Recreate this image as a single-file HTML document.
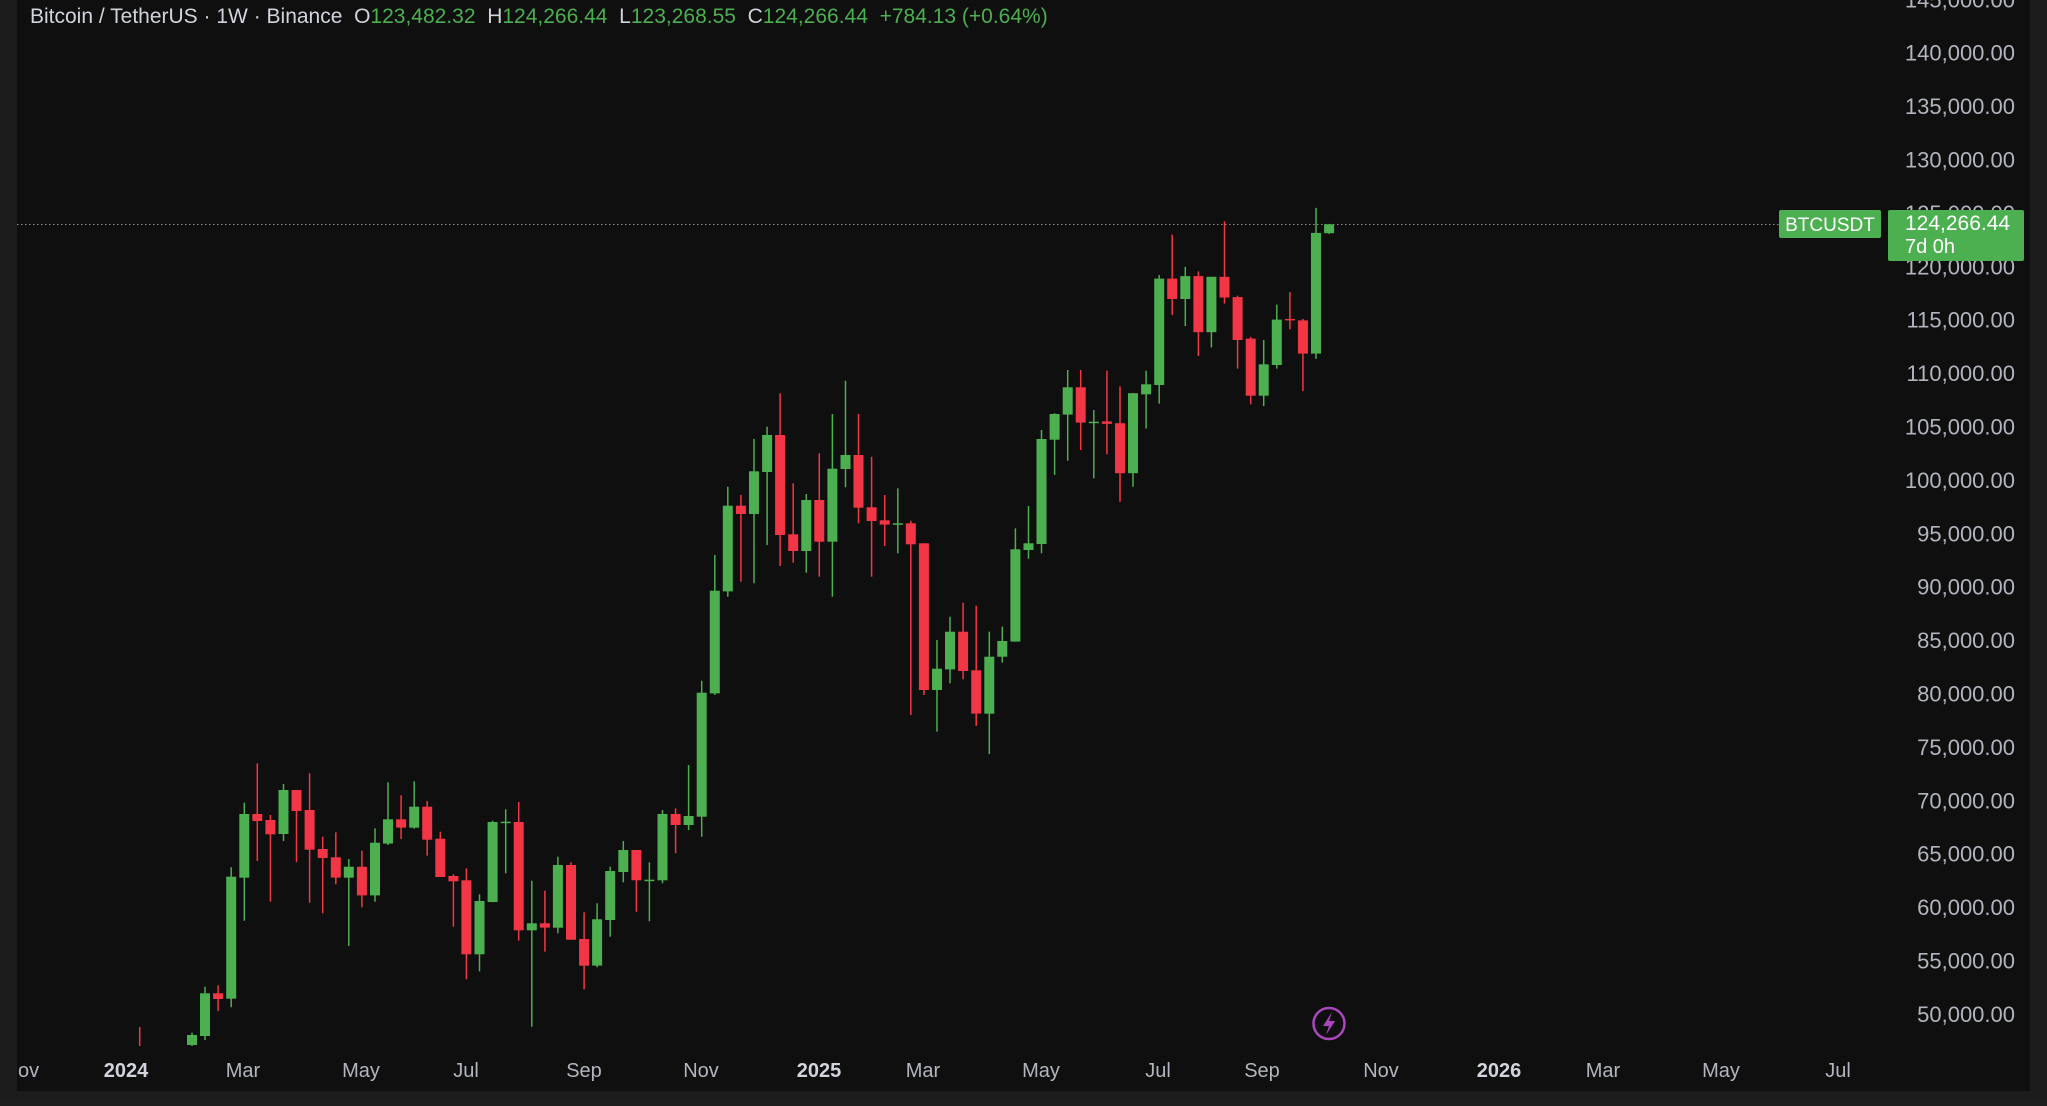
<!DOCTYPE html>
<html><head><meta charset="utf-8"><style>
html,body{margin:0;padding:0;background:#1e1e1e;width:2047px;height:1101px;overflow:hidden;font-family:"Liberation Sans",sans-serif;}
#wrap{position:absolute;left:0;top:0;width:2047px;height:1101px;}
</style></head><body><div id="wrap"><svg id="s" width="2047" height="1101" xmlns="http://www.w3.org/2000/svg"></svg></div>
<script>
var S=document.getElementById('s');var h='';
h+='<rect x="0" y="0" width="2047" height="1101" fill="#1c1c1c"/>';
h+='<rect x="17" y="0" width="2013" height="1091" fill="#0f0f0f"/>';
h+='<defs><clipPath id="c"><rect x="17" y="0" width="1850" height="1046"/></clipPath></defs>';
var z1=[[4,'G',848,855,885,890],[5,'G',710,730,858,870],[6,'R',706,730,747,783],[7,'G',352,380,746,772],[8,'G',158,192,383,512],[9,'R',40,192,213,333],[10,'R',195,210,253,455],[11,'G',102,120,252,273],[12,'R',120,120,183,337],[13,'R',70,180,299,458],[14,'R',260,297,324,490],[15,'R',247,322,383,403],[16,'G',327,350,383,588],[17,'R',302,350,436,472],[18,'G',235,278,436,455],[19,'G',97,208,281,285],[20,'R',136,208,233,267],[21,'G',94,170,233,236],[22,'R',153,170,269,317],[23,'R',245,266,381,380],[24,'R',373,378,394,530],[25,'R',355,391,613,688],[26,'G',433,453,613,664],[27,'G',212,216,456,457],[28,'G',178,215,218,370],[29,'R',156,216,541,572],[30,'G',392,520,541,830],[31,'R',422,520,533,605],[32,'G',320,345,533,550],[33,'R',337,345,569,569],[34,'R',487,567,647,718],[35,'G',460,508,647,652],[36,'G',350,363,510,560],[37,'G',273,300,366,397],[38,'R',300,300,391,485],[39,'G',337,389,392,514],[40,'G',180,192,391,400],[41,'R',175,192,225,310]];
var z2=[[42,'G',1185,1338,1365,1380],[43,'G',932,968,1340,1400],[44,'G',555,662,970,975],[45,'G',350,407,664,680],[46,'R',375,407,432,635],[47,'G',207,304,432,640],[48,'G',170,195,306,525],[49,'R',70,195,495,588],[50,'R',340,493,543,578],[51,'G',372,390,543,608],[52,'R',250,390,515,620],[53,'G',132,296,515,680],[54,'G',32,255,297,352],[55,'R',132,255,413,460],[56,'R',260,412,453,620],[57,'R',375,451,464,528],[58,'G',355,460,464,550],[59,'R',452,460,523,1035],[60,'R',520,520,960,975],[61,'G',810,896,960,1085],[62,'G',740,785,898,940],[63,'R',698,785,903,928],[64,'R',707,901,1031,1068],[65,'G',785,860,1031,1152],[66,'G',770,813,860,878],[67,'G',475,538,815,815],[68,'G',408,520,540,566],[69,'G',180,207,522,550],[70,'G',130,132,209,315],[71,'G',0,52,134,272],[72,'R',0,52,158,240],[73,'G',120,155,158,325]];
var z3=[[74,'R',478,620,627,712],[75,'R',522,625,765,845],[76,'G',540,541,765,803],[77,'G',478,516,544,640],[78,'G',210,220,518,570],[79,'R',97,220,277,322],[80,'G',187,213,277,353],[81,'R',200,213,370,437],[82,'G',215,215,370,413],[83,'R',60,215,273,290],[84,'R',268,272,392,472],[85,'R',383,388,548,572],[86,'G',392,460,548,577],[87,'G',293,335,462,472],[88,'R',258,333,337,362],[89,'R',333,337,430,535],[90,'G',22,92,430,445],[91,'G',67,68,93,95]];
var G='#4caf50',R='#f23645';
function X(i){return 139.7+i*13.07;}
var c='<g clip-path="url(#c)">';
c+='<line x1="139.7" y1="1027" x2="139.7" y2="1046" stroke="'+R+'" stroke-width="1.5"/>';
function draw(arr,off,sc){arr.forEach(function(d){var x=X(d[0]);var col=d[1]=='G'?G:R;
var wt=off+d[2]/sc,bt=off+d[3]/sc,bb=off+d[4]/sc,wb=off+d[5]/sc;if(bb-bt<1.5){bb=bt+1.5;}
c+='<line x1="'+x.toFixed(1)+'" y1="'+wt.toFixed(1)+'" x2="'+x.toFixed(1)+'" y2="'+wb.toFixed(1)+'" stroke="'+col+'" stroke-width="1.5"/>';
c+='<rect x="'+(x-5).toFixed(1)+'" y="'+bt.toFixed(1)+'" width="10" height="'+(bb-bt).toFixed(1)+'" fill="'+col+'"/>';});}
draw(z1,750,3);draw(z2,370,3);draw(z3,200,2.8);
c+='</g>';
h+='<line x1="17" y1="224.5" x2="1779" y2="224.5" stroke="#8a8a8a" stroke-width="1" stroke-dasharray="1.5,2.5"/>';
h+=c;
for(var p=50000;p<=145000;p+=5000){var y=1014.4-(p-50000)/5000*53.4;
h+='<text x="2015" y="'+(y+7.5).toFixed(1)+'" text-anchor="end" font-size="22" fill="#b2b5be">'+p.toLocaleString('en-US')+'.00</text>';}
var ml=[['ov',18,0,'start'],['2024',126,1],['Mar',243],['May',361],['Jul',466],['Sep',584],['Nov',701],['2025',819,1],['Mar',923],['May',1041],['Jul',1158],['Sep',1262],['Nov',1381],['2026',1499,1],['Mar',1603],['May',1721],['Jul',1838]];
ml.forEach(function(m){h+='<text x="'+m[1]+'" y="1077" text-anchor="'+(m[3]||'middle')+'" font-size="20" fill="'+(m[2]?'#d1d4dc':'#b2b5be')+'"'+(m[2]?' font-weight="bold"':'')+'>'+m[0]+'</text>';});
h+='<rect x="1779" y="210" width="102" height="28" rx="2" fill="'+G+'"/><text x="1830" y="231" text-anchor="middle" font-size="19" fill="#fff">BTCUSDT</text>';
h+='<rect x="1888" y="210" width="136" height="51" rx="2" fill="'+G+'"/><text x="1905" y="230" font-size="21" fill="#fff">124,266.44</text><text x="1905" y="253" font-size="20" fill="#fff">7d 0h</text>';
h+='<circle cx="1329" cy="1023.5" r="15.5" fill="none" stroke="#ab47bc" stroke-width="2.5"/><path d="M1332 1012 L1323 1026 L1329 1026 L1326 1035 L1335 1021 L1329 1021 Z" fill="#ab47bc"/>';
h+='<text x="30" y="23" font-size="21" fill="#d1d4dc" xml:space="preserve">Bitcoin / TetherUS · 1W · Binance  O<tspan fill="#4caf50">123,482.32</tspan>  H<tspan fill="#4caf50">124,266.44</tspan>  L<tspan fill="#4caf50">123,268.55</tspan>  C<tspan fill="#4caf50">124,266.44</tspan>  <tspan fill="#4caf50">+784.13 (+0.64%)</tspan></text>';
S.innerHTML=h;
</script></body></html>
